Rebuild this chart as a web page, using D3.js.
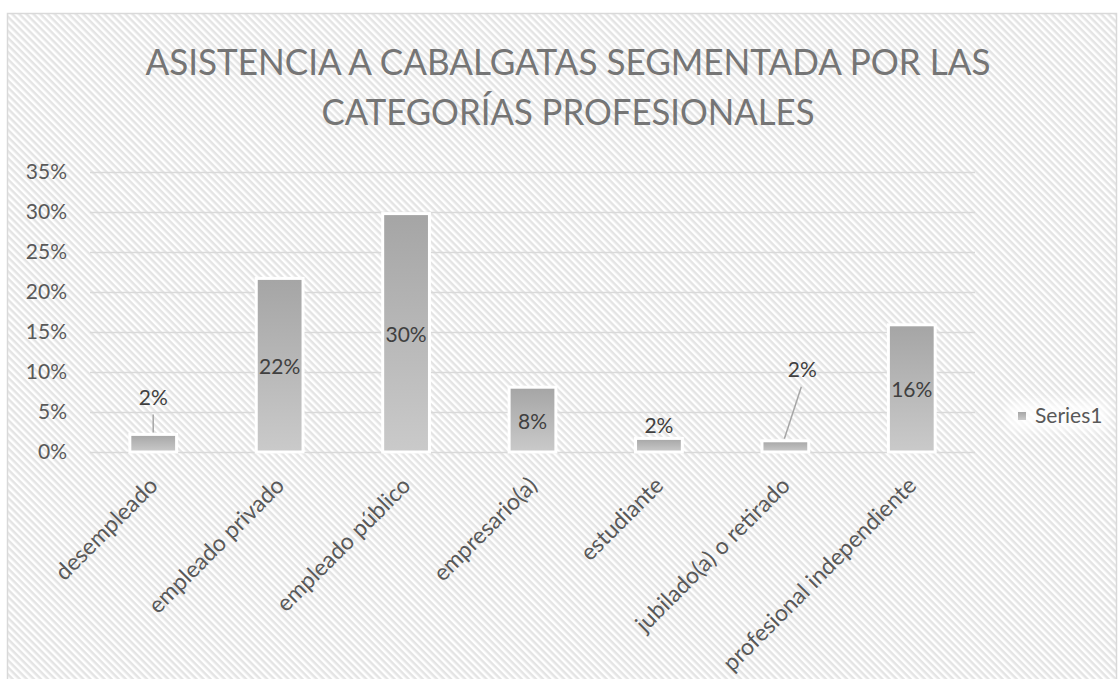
<!DOCTYPE html>
<html>
<head>
<meta charset="utf-8">
<script src="https://cdnjs.cloudflare.com/ajax/libs/d3/7.8.5/d3.min.js"></script>
<style>
  body { margin: 0; background: #fff; }
  svg { display: block; font-family: Lato, "Open Sans", sans-serif; }
</style>
</head>
<body>
<div id="chart"></div>
<script>
var categories = ["desempleado", "empleado privado", "empleado público", "empresario(a)",
                  "estudiante", "jubilado(a) o retirado", "profesional independiente"];
var values = [0.022, 0.217, 0.298, 0.081, 0.017, 0.014, 0.159];
var valueLabels = ["2%", "22%", "30%", "8%", "2%", "2%", "16%"];
var yTicks = [0, 0.05, 0.10, 0.15, 0.20, 0.25, 0.30, 0.35];
var seriesName = "Series1";
var titleLines = ["ASISTENCIA A CABALGATAS SEGMENTADA POR LAS", "CATEGORÍAS PROFESIONALES"];

var width = 1119, height = 679;
var plot = { left: 90, right: 975, top: 172, bottom: 452 };

var svg = d3.select("#chart").append("svg")
    .attr("width", width)
    .attr("height", height);

var defs = svg.append("defs");

// diagonal hatch background
var pat = defs.append("pattern")
    .attr("id", "hatch")
    .attr("patternUnits", "userSpaceOnUse")
    .attr("width", 5).attr("height", 5)
    .attr("patternTransform", "rotate(45)");
pat.append("rect").attr("width", 5).attr("height", 5).attr("fill", "#ffffff");
pat.append("rect").attr("width", 5).attr("height", 2.5).attr("fill", "#e4e4e4");

var grad = defs.append("linearGradient")
    .attr("id", "barGrad")
    .attr("x1", 0).attr("y1", 0).attr("x2", 0).attr("y2", 1);
grad.append("stop").attr("offset", "0%").attr("stop-color", "#a5a5a5");
grad.append("stop").attr("offset", "100%").attr("stop-color", "#cacaca");

var blur = defs.append("filter").attr("id", "soft")
    .attr("x", "-30%").attr("y", "-60%").attr("width", "160%").attr("height", "220%");
blur.append("feGaussianBlur").attr("stdDeviation", 6);

// chart area
svg.append("rect")
    .attr("x", 7.5).attr("y", 13.5)
    .attr("width", width - 10).attr("height", height - 12)
    .attr("fill", "url(#hatch)")
    .attr("stroke", "#d9d9d9")
    .attr("stroke-width", 1.5);

// title
svg.append("g").selectAll("text")
    .data(titleLines)
    .enter()
    .append("text")
    .attr("x", 568)
    .attr("y", function(d, i) { return 75 + i * 50; })
    .attr("text-anchor", "middle")
    .attr("font-size", "37px")
    .attr("fill", "#757575")
    .attr("textLength", function(d, i) { return i === 0 ? 845 : 493; })
    .attr("lengthAdjust", "spacingAndGlyphs")
    .text(function(d) { return d; });

var x = d3.scaleBand()
    .domain(categories)
    .range([plot.left, plot.right])
    .paddingInner(0.63)
    .paddingOuter(0.315);

var y = d3.scaleLinear()
    .domain([0, 0.35])
    .range([plot.bottom, plot.top]);

// grid + y labels
var yAxis = d3.axisLeft(y)
    .tickValues(yTicks)
    .tickSize(-(plot.right - plot.left))
    .tickPadding(23)
    .tickFormat(d3.format(".0%"));

var yg = svg.append("g")
    .attr("transform", "translate(" + plot.left + ",0)")
    .call(yAxis);
yg.select(".domain").remove();
yg.selectAll(".tick line").attr("stroke", "#d9d9d9").attr("stroke-width", 1.5);
yg.selectAll(".tick text")
    .attr("font-size", "21px")
    .attr("fill", "#595959")
    .attr("font-family", "Lato, sans-serif");

// bars
svg.append("g").selectAll("rect")
    .data(values)
    .enter()
    .append("rect")
    .attr("x", function(d, i) { return x(categories[i]); })
    .attr("y", function(d) { return y(d); })
    .attr("width", x.bandwidth())
    .attr("height", function(d) { return y(0) - y(d); })
    .attr("fill", "url(#barGrad)")
    .attr("stroke", "#ffffff")
    .attr("stroke-width", 3);

// data labels: most sit in the middle of the bar, small ones go above
function cx(i) { return x(categories[i]) + x.bandwidth() / 2; }
var labelPos = values.map(function(v, i) {
  if (i === 0) return { x: cx(i), y: y(v) - 29, line: [cx(i), y(v) - 20, cx(i), y(v) - 2] };
  if (i === 4) return { x: cx(i), y: y(v) - 5 };
  if (i === 5) return { x: cx(i) + 17, y: y(v) - 64, line: [cx(i) + 16, y(v) - 54, cx(i) - 1, y(v) - 2] };
  return { x: cx(i), y: (y(v) + y(0)) / 2 + 9 };
});

svg.append("g").selectAll("line")
    .data(labelPos.filter(function(p) { return p.line; }))
    .enter()
    .append("line")
    .attr("x1", function(p) { return p.line[0]; })
    .attr("y1", function(p) { return p.line[1]; })
    .attr("x2", function(p) { return p.line[2]; })
    .attr("y2", function(p) { return p.line[3]; })
    .attr("stroke", "#a6a6a6")
    .attr("stroke-width", 1.5);

svg.append("g").selectAll("text")
    .data(valueLabels)
    .enter()
    .append("text")
    .attr("x", function(d, i) { return labelPos[i].x; })
    .attr("y", function(d, i) { return labelPos[i].y; })
    .attr("text-anchor", "middle")
    .attr("font-size", "21px")
    .attr("fill", "#404040")
    .text(function(d) { return d; });

// category labels, rotated
svg.append("g").selectAll("text")
    .data(categories)
    .enter()
    .append("text")
    .attr("transform", function(d) {
      return "translate(" + (x(d) + x.bandwidth() / 2 + 6) + "," + (plot.bottom + 35) + ") rotate(-45)";
    })
    .attr("text-anchor", "end")
    .attr("font-size", "23px")
    .attr("fill", "#595959")
    .text(function(d) { return d; });

// legend
var lg = svg.append("g").attr("transform", "translate(1018,412)");
lg.append("rect")
    .attr("x", -10).attr("y", -10)
    .attr("width", 100).attr("height", 28)
    .attr("fill", "#ffffff")
    .attr("opacity", 0.85)
    .attr("filter", "url(#soft)");
lg.append("rect")
    .attr("x", 0).attr("y", 0)
    .attr("width", 8).attr("height", 8)
    .attr("fill", "url(#barGrad)");
lg.append("text")
    .attr("x", 17).attr("y", 11)
    .attr("font-size", "21px")
    .attr("fill", "#595959")
    .text(seriesName);
</script>
</body>
</html>
